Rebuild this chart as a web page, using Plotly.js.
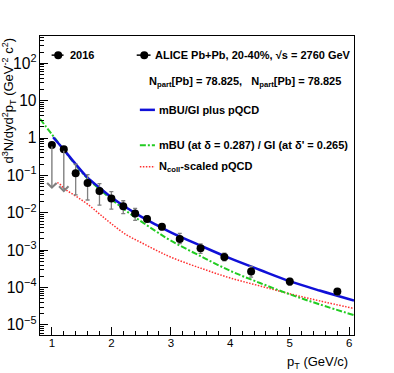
<!DOCTYPE html>
<html>
<head>
<meta charset="utf-8">
<script src="https://cdn.plot.ly/plotly-3.0.1.min.js"></script>
<style>
  html, body { margin: 0; padding: 0; background: #fff; }
  #chart { width: 394px; height: 373px; }
</style>
</head>
<body>
<div id="chart"></div>
<script>
// ALICE Pb+Pb 20-40% data points (pT in GeV/c)
var ptData = [1.0, 1.2, 1.4, 1.6, 1.8, 2.0, 2.2, 2.4, 2.6, 2.85, 3.15, 3.5, 3.9, 4.35, 5.0, 5.8];
var yData = [0.65, 0.50, 0.115, 0.063, 0.038, 0.024, 0.015, 0.0095, 0.0068, 0.0042, 0.0020, 0.00112, 0.00066, 0.00027, 0.000145, 0.000078];
var errUp = [0, 0, 0.085, 0.042, 0.022, 0.013, 0.006, 0.0037, 0.0014, 0.0008, 0.0008, 0.00036, 0.00017, 0.0001, 0.00003, 0.000016];
var errDown = [0, 0, 0.085, 0.041, 0.022, 0.0114, 0.0055, 0.0032, 0.0011, 0.0007, 0.0005, 0.0003, 0.00014, 0.00008, 0.00003, 0.000014];

// upper limits (first two points)
var limPt = [1.0, 1.2];
var limFrom = [0.65, 0.50];
var limTo = [0.043, 0.035];

// mBU/GI plus pQCD
var ptBlue = [1.02, 1.2, 1.4, 1.6, 1.8, 2.0, 2.25, 2.5, 2.75, 3.0, 3.5, 4.0, 4.5, 5.0, 5.5, 6.08];
var yBlue = [1.05, 0.49, 0.20, 0.087, 0.047, 0.026, 0.0138, 0.0079, 0.0048, 0.0030, 0.00132, 0.00060, 0.000295, 0.000148, 0.000083, 0.0000447];

// mBU / GI
var ptGreen = [0.8, 1.0, 1.2, 1.4, 1.6, 1.8, 2.0, 2.25, 2.5, 2.75, 3.0, 3.5, 4.0, 4.5, 5.0, 5.5, 6.08];
var yGreen = [3.24, 1.26, 0.48, 0.19, 0.083, 0.043, 0.023, 0.0112, 0.0059, 0.0032, 0.0018, 0.00069, 0.00028, 0.000132, 0.000066, 0.0000355, 0.0000182];

// Ncoll-scaled pQCD
var ptRed = [1.05, 1.1, 1.22, 1.4, 1.6, 1.8, 2.0, 2.25, 2.5, 2.75, 3.0, 3.5, 4.0, 4.5, 5.0, 5.5, 6.08];
var yRed = [0.056, 0.063, 0.043, 0.028, 0.017, 0.0093, 0.0051, 0.0026, 0.0016, 0.0010, 0.00065, 0.00033, 0.00018, 0.00011, 0.000068, 0.000044, 0.0000275];

var FONT = 'Liberation Sans, Arial, sans-serif';
var BLUE = '#1010d8', GREEN = '#22cc22', RED = '#ff3030';
var RED_DASH = '1.5px,1.5px';
var GREEN_DASH = '6px,2px,2px,2px';

var trBlue = {
  x: ptBlue, y: yBlue, mode: 'lines', line: {color: BLUE, width: 2.5, shape: 'spline'},
  showlegend: false, hoverinfo: 'skip'
};
var trGreen = {
  x: ptGreen, y: yGreen, mode: 'lines', line: {color: GREEN, width: 2, dash: GREEN_DASH, shape: 'spline'},
  showlegend: false, hoverinfo: 'skip'
};
var trRed = {
  x: ptRed, y: yRed, mode: 'lines', line: {color: RED, width: 1.5, dash: RED_DASH, shape: 'spline'},
  showlegend: false, hoverinfo: 'skip'
};
var trData = {
  x: ptData, y: yData, mode: 'markers',
  marker: {color: '#000', size: 8, symbol: 'circle'},
  error_y: {type: 'data', symmetric: false, array: errUp, arrayminus: errDown,
            color: '#808080', thickness: 1.3, width: 2},
  showlegend: false
};

// arrows for upper limits
var anns = [];
for (var i = 0; i < limPt.length; i++) {
  anns.push({
    x: limPt[i], y: Math.log10(limTo[i]), xref: 'x', yref: 'y',
    ax: limPt[i], ay: Math.log10(limFrom[i]), axref: 'x', ayref: 'y',
    text: '', showarrow: true, arrowhead: 4, arrowsize: 1.3, arrowwidth: 1.4,
    arrowcolor: '#808080'
  });
}

// legend text
var legFont = {family: FONT, size: 11, color: '#000', weight: 'bold'};
function legText(x, y, t) {
  anns.push({xref: 'paper', yref: 'paper', x: x, y: y, xanchor: 'left', yanchor: 'middle',
             text: t, showarrow: false, font: legFont});
}
legText(0.088, 0.936, '2016');
legText(0.360, 0.936, 'ALICE Pb+Pb, 20-40%, \u221As = 2760 GeV');
legText(0.340, 0.847, 'N<sub>part</sub>[Pb] = 78.825,\u00a0\u00a0\u00a0N<sub>part</sub>[Pb] = 78.825');
legText(0.372, 0.753, 'mBU/GI plus pQCD');
legText(0.372, 0.635, 'mBU (at \u03b4 = 0.287) / GI (at \u03b4\' = 0.265)');
legText(0.372, 0.563, 'N<sub>coll</sub>-scaled pQCD');

// axis titles
anns.push({xref: 'paper', yref: 'paper', x: -0.1, y: 1.0, xanchor: 'center', yanchor: 'top',
  textangle: -90, showarrow: false, font: {family: FONT, size: 13, color: '#000'},
  text: 'd<sup>3</sup>N/dyd<sup>2</sup>p<sub>T</sub> (GeV<sup>-2</sup> c<sup>2</sup>)'});
anns.push({xref: 'paper', yref: 'paper', x: 0.987, y: -0.093, xanchor: 'right', yanchor: 'middle',
  showarrow: false, font: {family: FONT, size: 13, color: '#000'},
  text: 'p<sub>T</sub> (GeV/c)'});

// legend samples
var shapes = [
  {type: 'line', xref: 'paper', yref: 'paper', x0: 0.037, x1: 0.075, y0: 0.936, y1: 0.936, line: {color: '#000', width: 1.5}},
  {type: 'line', xref: 'paper', yref: 'paper', x0: 0.308, x1: 0.352, y0: 0.936, y1: 0.936, line: {color: '#000', width: 1.5}},
  {type: 'line', xref: 'paper', yref: 'paper', x0: 0.318, x1: 0.366, y0: 0.753, y1: 0.753, line: {color: BLUE, width: 2.5}},
  {type: 'line', xref: 'paper', yref: 'paper', x0: 0.318, x1: 0.366, y0: 0.635, y1: 0.635, line: {color: GREEN, width: 2, dash: GREEN_DASH}},
  {type: 'line', xref: 'paper', yref: 'paper', x0: 0.318, x1: 0.366, y0: 0.563, y1: 0.563, line: {color: RED, width: 1.5, dash: RED_DASH}}
];
[0.058, 0.332].forEach(function (cx) {
  shapes.push({type: 'circle', xref: 'paper', yref: 'paper', xsizemode: 'pixel', ysizemode: 'pixel',
    xanchor: cx, yanchor: 0.936, x0: -4, x1: 4, y0: -4, y1: 4,
    fillcolor: '#000', line: {color: '#000', width: 0}});
});

var layout = {
  width: 394, height: 373,
  margin: {l: 40, r: 40, t: 36, b: 38},
  paper_bgcolor: '#fff', plot_bgcolor: '#fff',
  font: {family: FONT, size: 13, color: '#000'},
  showlegend: false,
  xaxis: {
    range: [0.8, 6.08], dtick: 1, tick0: 0,
    ticks: 'inside', ticklen: 8, tickwidth: 1, tickcolor: '#000',
    minor: {dtick: 0.2, ticks: 'inside', ticklen: 4, tickcolor: '#000', showgrid: false},
    showgrid: false, zeroline: false, showline: true, linecolor: '#000', linewidth: 1, mirror: true,
    tickfont: {family: FONT, size: 11.5}, ticklabelstandoff: -3
  },
  yaxis: {
    type: 'log', range: [-5.27, 2.73], dtick: 1, exponentformat: 'power',
    ticks: 'inside', ticklen: 8, tickwidth: 1, tickcolor: '#000',
    minor: {dtick: 'D1', ticks: 'inside', ticklen: 4, tickcolor: '#000', showgrid: false},
    showgrid: false, zeroline: false, showline: true, linecolor: '#000', linewidth: 1, mirror: true,
    tickfont: {family: FONT, size: 12.5}
  },
  annotations: anns,
  shapes: shapes
};

Plotly.newPlot('chart', [trRed, trGreen, trBlue, trData], layout, {displayModeBar: false, staticPlot: true});
</script>
</body>
</html>
